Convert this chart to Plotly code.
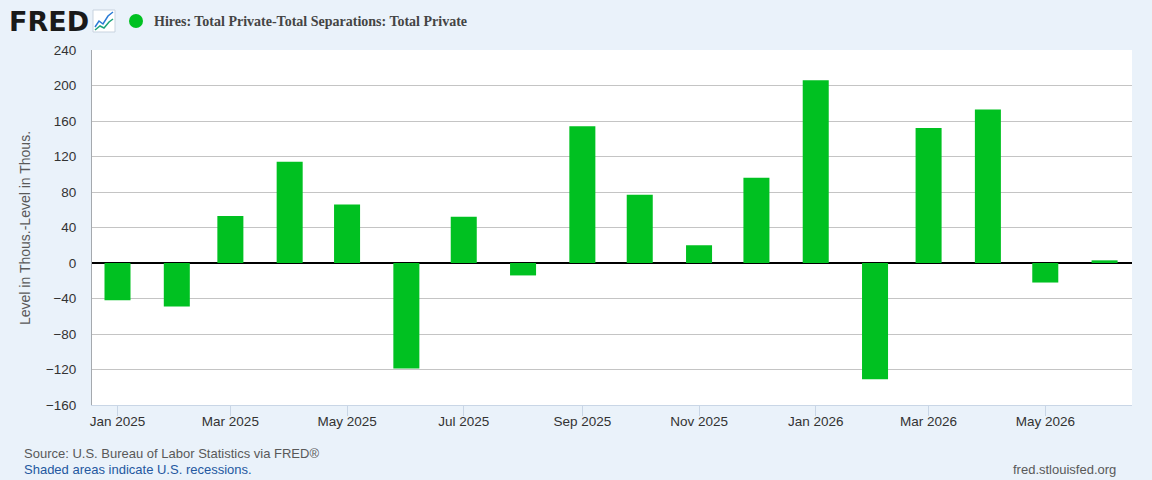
import plotly.graph_objects as go

# Hires minus separations, total private (thousands)
months = ['2025-01-01', '2025-02-01', '2025-03-01', '2025-04-01', '2025-05-01', '2025-06-01',
          '2025-07-01', '2025-08-01', '2025-09-01', '2025-10-01', '2025-11-01', '2025-12-01',
          '2026-01-01', '2026-02-01', '2026-03-01', '2026-04-01', '2026-05-01', '2026-06-01']
values = [-42, -49, 53, 114, 66, -119, 52, -14, 154, 77, 20, 96, 206, -131, 152, 173, -22, 3]

y_ticks = [-160, -120, -80, -40, 0, 40, 80, 120, 160, 200, 240]

series_title = 'Hires: Total Private-Total Separations: Total Private'
y_title = 'Level in Thous.-Level in Thous.'
source_text = 'Source: U.S. Bureau of Labor Statistics via FRED®'
shaded_text = 'Shaded areas indicate U.S. recessions.'
site_text = 'fred.stlouisfed.org'

W, H = 1152, 480
L, R, T, B = 92, 20, 50, 75
bg = '#eaf2fa'
green = '#00c121'


def px(x):
    return (x - L) / (W - L - R)


def py(y):
    return (H - B - y) / (H - T - B)


fig = go.Figure(go.Bar(
    x=months, y=values,
    width=13.6 * 86400000,
    marker=dict(color=green, line=dict(width=0)),
    hoverinfo='x+y',
))

fig.update_layout(
    width=W, height=H,
    margin=dict(l=L, r=R, t=T, b=B),
    paper_bgcolor=bg,
    plot_bgcolor='white',
    showlegend=False,
    font=dict(family='Liberation Sans, Arial, sans-serif', size=13, color='#333333'),
    xaxis=dict(
        type='date',
        range=['2024-12-18 16:00', '2026-06-15 08:00'],
        tick0='2025-01-01', dtick='M2', tickformat='%b %Y',
        ticks='outside', ticklen=10, tickcolor='#c9d6e6', tickwidth=1,
        ticklabelstandoff=-6,
        tickfont=dict(size=13.5),
        showgrid=False, showline=True, linecolor='#c9d6e6', linewidth=1,
        zeroline=False,
    ),
    yaxis=dict(
        range=[-160, 240],
        tickvals=y_ticks,
        ticks='outside', ticklen=12, tickcolor='rgba(0,0,0,0)',
        tickfont=dict(size=13.5),
        showgrid=True, gridcolor='#c4c4c4', gridwidth=1.3,
        showline=True, linecolor='#a5a9ae', linewidth=1,
        zeroline=True, zerolinecolor='black', zerolinewidth=2,
    ),
)

# FRED logo and small chart icon
icon_blue = [(95, 27), (99, 21), (103, 24), (108, 16), (113, 12)]
icon_green = [(95, 30), (100, 26), (104, 28), (109, 22), (113, 19)]


def path(points):
    return 'M ' + ' L '.join(f'{px(a)},{py(b)}' for a, b in points)


shapes = [
    dict(type='rect', xref='paper', yref='paper', x0=px(93), x1=px(115), y0=py(32), y1=py(10),
         fillcolor='white', line=dict(color='#c8d3df', width=1)),
    dict(type='path', xref='paper', yref='paper', path=path(icon_blue),
         line=dict(color='#2a7bd5', width=1.5)),
    dict(type='path', xref='paper', yref='paper', path=path(icon_green),
         line=dict(color='#1fa37a', width=1.5)),
    dict(type='circle', xref='paper', yref='paper', x0=px(129), x1=px(143), y0=py(28), y1=py(14),
         fillcolor=green, line=dict(width=0)),
]
fig.update_layout(shapes=shapes)

annotations = [
    dict(text='<b>FRED</b>', x=px(7), y=py(21), xanchor='left', yanchor='middle',
         font=dict(family='DejaVu Sans, Arial', size=27, color='#1a1a1a')),
    dict(text='<b>' + series_title + '</b>', x=px(152), y=py(21), xanchor='left', yanchor='middle',
         font=dict(family='Liberation Serif, Times New Roman, serif', size=14, color='#444444')),
    dict(text=y_title, x=px(25), y=py(228), textangle=-90, xanchor='center', yanchor='middle',
         font=dict(size=14, color='#595959')),
    dict(text=source_text, x=px(22), y=py(453), xanchor='left', yanchor='middle',
         font=dict(size=13, color='#595959')),
    dict(text=shaded_text, x=px(22), y=py(469), xanchor='left', yanchor='middle',
         font=dict(size=13, color='#2458a0')),
    dict(text=site_text, x=px(1118), y=py(469), xanchor='right', yanchor='middle',
         font=dict(size=13, color='#595959')),
]
for a in annotations:
    a.update(xref='paper', yref='paper', showarrow=False)
fig.update_layout(annotations=annotations)

fig.write_html('out.html', config={'displayModeBar': False},
               post_script="document.body.style.margin='0';")
